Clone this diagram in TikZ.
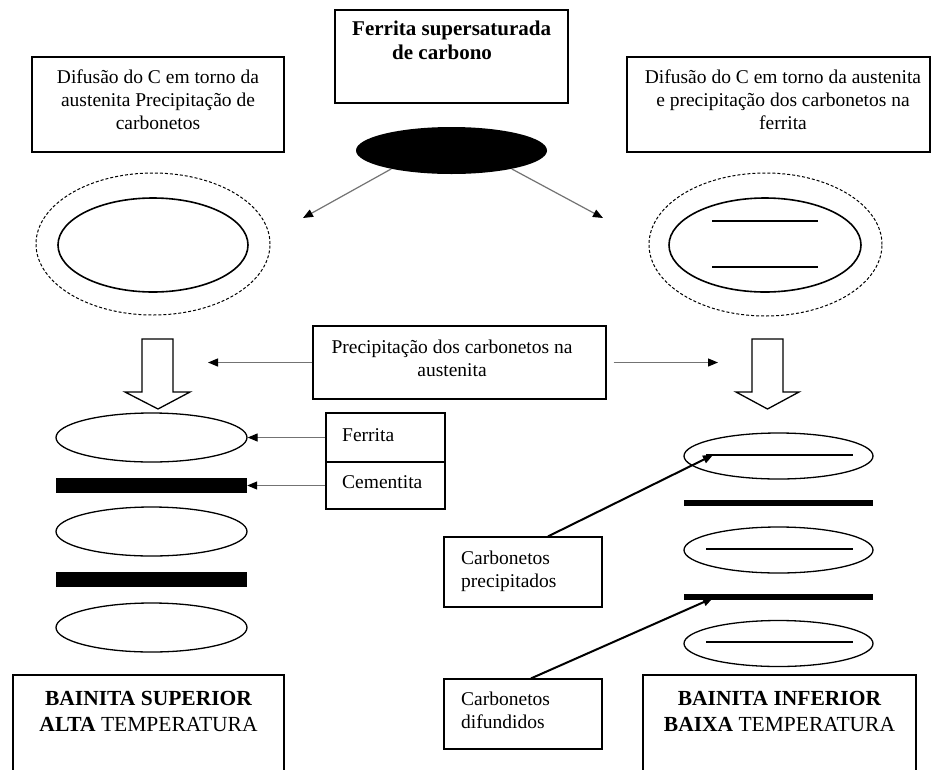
\documentclass[tikz,border=0pt]{standalone}
\usepackage{fontspec}
\setmainfont{Liberation Serif}
\usetikzlibrary{arrows.meta,shapes.geometric}
\begin{document}
\begin{tikzpicture}[x=1pt,y=-1pt,
  box/.style={draw,line width=1.2pt,inner sep=0pt,rectangle},
  txt/.style={inner sep=0pt,font=\fontsize{19.5}{23}\selectfont},
  btxt/.style={inner sep=0pt,font=\fontsize{21}{24}\selectfont\bfseries},
  bigtxt/.style={inner sep=0pt,font=\fontsize{21.5}{26}\selectfont\bfseries},
  thinarr/.style={draw=black!55,line width=1.2pt,-{Triangle[length=10pt,width=8pt,color=black]}},
  boldarr/.style={draw=black,line width=2pt,-{Triangle[length=10pt,width=8pt]}},
  ell/.style={ellipse,draw,line width=1.3pt,inner sep=0pt},
  dell/.style={ellipse,draw,line width=1pt,dash pattern=on 3pt off 2pt,inner sep=0pt},
  hollow/.style={draw,line width=1.3pt,fill=white,line join=miter},
  bar/.style={rectangle,fill=black,inner sep=0pt},
  innerline/.style={line width=1.2pt}
]
\useasboundingbox (0,0) rectangle (932,769);
\fill[white] (0,0) rectangle (932,769);

% top box
\node[box,minimum width=233pt,minimum height=93pt] (tbox) at (451.5,56.5) {};
\node[btxt,anchor=base west,align=left] (ttxt) at (352,59) {Ferrita supersaturada\\\hspace*{40pt}de carbono};

% side boxes
\node[box,minimum width=252pt,minimum height=95pt] (lbox) at (158,104.5) {};
\node[txt,align=center,anchor=base] (ltxt) at (158,129) {Difusão do C em torno da\\austenita Precipitação de\\carbonetos};
\node[box,minimum width=303pt,minimum height=95pt] (rbox) at (778.5,104.5) {};
\node[txt,align=center,anchor=base] (rtxt) at (783,129) {Difusão do C em torno da austenita\\e precipitação dos carbonetos na\\ferrita};

% black ellipse
\node[ellipse,fill=black,minimum width=191pt,minimum height=47pt,inner sep=0pt] (blk) at (451.5,150.5) {};
\coordinate (la) at (303,218);
\coordinate (ra) at (603,218);
\draw[thinarr] (blk.197) -- (la);
\draw[thinarr] (blk.343) -- (ra);

% double ellipses
\node[dell,minimum width=234pt,minimum height=142pt] (lo) at (153,244) {};
\node[ell,line width=1.6pt,minimum width=190pt,minimum height=94pt] (li) at (153,245) {};
\node[dell,minimum width=233pt,minimum height=143pt] (ro) at (765.5,244.5) {};
\node[ell,line width=1.6pt,minimum width=192pt,minimum height=94pt] (ri) at (765,245) {};
\draw[innerline] (712,221) -- (818,221);
\draw[innerline] (712,267) -- (818,267);

% middle box
\node[box,minimum width=293pt,minimum height=73pt] (mid) at (459.5,362.5) {};
\node[txt,align=center,anchor=base] (midt) at (452,376) {Precipitação dos carbonetos na\\austenita};
\coordinate (ml) at (208,362.5);
\coordinate (mr) at (718,362.5);
\draw[thinarr] (mid.west) -- (ml);
\draw[thinarr,shorten <=7pt] (mid.east) -- (mr);

% hollow arrows
\draw[hollow] (142,339) -- (173,339) -- (173,392) -- (190,392) -- (158,409) -- (125,392) -- (142,392) -- cycle;
\draw[hollow] (752,339) -- (783,339) -- (783,392) -- (799,392) -- (767.5,409) -- (736,392) -- (752,392) -- cycle;

% left stack
\node[ell,minimum width=191pt,minimum height=49pt] (le1) at (151.5,437.5) {};
\node[bar,minimum width=191pt,minimum height=15pt] (lb1) at (151.5,485.5) {};
\node[ell,minimum width=191pt,minimum height=49pt] (le2) at (151.5,531.5) {};
\node[bar,minimum width=191pt,minimum height=15pt] (lb2) at (151.5,579.5) {};
\node[ell,minimum width=191pt,minimum height=49pt] (le3) at (151.5,627.5) {};

% ferrita / cementita
\node[box,minimum width=119pt,minimum height=49pt] (fer) at (385.5,437.5) {};
\node[box,minimum width=119pt,minimum height=47pt] (cem) at (385.5,485.5) {};
\node[txt,anchor=base west] (fert) at (342,441) {Ferrita};
\node[txt,anchor=base west] (cemt) at (342,488) {Cementita};
\draw[thinarr] (fer.west) -- (le1.east);
\draw[thinarr] (cem.west) -- (lb1.east);

% right stack
\node[ell,minimum width=189pt,minimum height=46pt] (re1) at (778.5,456) {};
\draw[innerline] (706,455) -- (853,455);
\node[bar,minimum width=189pt,minimum height=6pt] (rb1) at (778.5,503) {};
\node[ell,minimum width=189pt,minimum height=46pt] (re2) at (778.5,550) {};
\draw[innerline] (706,549) -- (853,549);
\node[bar,minimum width=189pt,minimum height=6pt] (rb2) at (778.5,597) {};
\node[ell,minimum width=189pt,minimum height=46pt] (re3) at (778.5,643.5) {};
\draw[innerline] (706,642) -- (853,642);

% carbonetos boxes
\node[box,minimum width=158pt,minimum height=70pt] (cp) at (523,572) {};
\node[txt,anchor=base west,align=left] (cpt) at (461,587) {Carbonetos\\precipitados};
\node[box,minimum width=158pt,minimum height=70pt] (cd) at (523,714) {};
\node[txt,anchor=base west,align=left] (cdt) at (461,728) {Carbonetos\\difundidos};
\coordinate (t1) at (713,455);
\coordinate (t2) at (713,598);
\draw[boldarr] ([xshift=25pt]cp.north) -- (t1);
\draw[boldarr] ([xshift=8pt]cd.north) -- (t2);

% bainita boxes
\node[box,minimum width=271pt,minimum height=110pt] (bs) at (148.5,730) {};
\node[bigtxt,align=center,anchor=base] (bst) at (148.5,731) {BAINITA SUPERIOR\\ALTA \textmd{TEMPERATURA}};
\node[box,minimum width=273pt,minimum height=110pt] (bi) at (779.5,730) {};
\node[bigtxt,align=center,anchor=base] (bit) at (779.5,731) {BAINITA INFERIOR\\BAIXA \textmd{TEMPERATURA}};
\end{tikzpicture}
\end{document}
